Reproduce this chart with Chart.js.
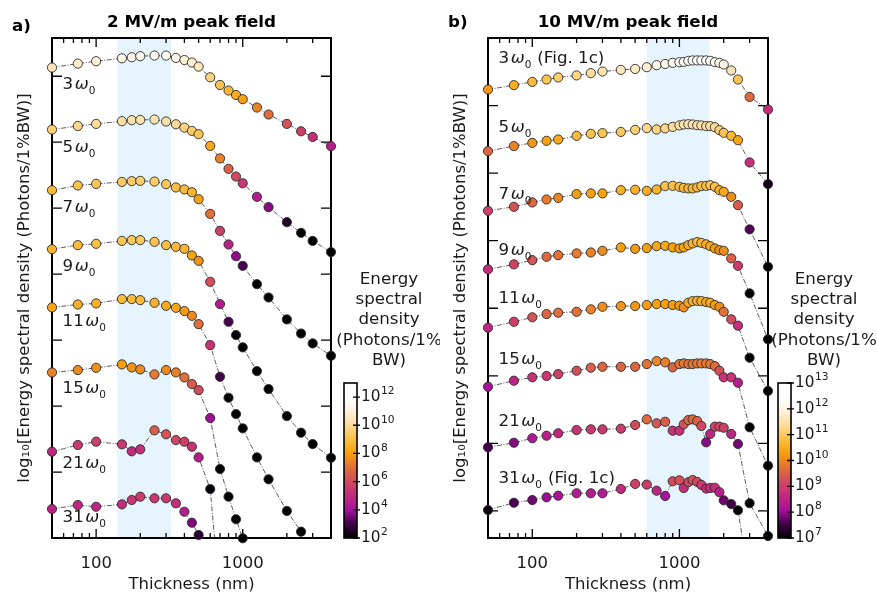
<!DOCTYPE html>
<html>
<head>
<meta charset="utf-8">
<script src="https://cdn.jsdelivr.net/npm/chart.js@4.4.1/dist/chart.umd.min.js"></script>
<style>
html, body { margin: 0; padding: 0; background: #fff; }
#wrap { position: relative; width: 877px; height: 596px; overflow: hidden; }
canvas { position: absolute; top: 0; }
</style>
</head>
<body>
<div id="wrap">
  <canvas id="panelA" width="345" height="596" style="left:0px"></canvas>
  <canvas id="panelB" width="345" height="596" style="left:436px"></canvas>
  <canvas id="cbarA" width="110" height="320" style="left:330px;top:240px"></canvas>
  <canvas id="cbarB" width="113" height="320" style="left:764px;top:240px"></canvas>
</div>
<script>
const FONT = "'DejaVu Sans', sans-serif";

// ---- panel a: 2 MV/m peak field ----
// thickness (nm) and log10 of energy spectral density for each harmonic
const thicknessA = [50, 75, 100, 150, 175, 200, 250, 300, 350, 400, 450, 500, 600, 700, 800, 900, 1000, 1250, 1500, 2000, 2500, 3000, 4000];
const harmonicsA = [3, 5, 7, 9, 11, 15, 21, 31];
const offsetA = [25.2, 21.4, 17.6, 13.3, 9.25, 5.2, 1.6, -2.45];   // vertical stacking (decades)
const a3  = [10.46, 10.76, 10.94, 11.16, 11.24, 11.32, 11.37, 11.37, 11.19, 11.03, 10.84, 10.53, 9.72, 9.14, 8.72, 8.38, 8.06, 7.43, 6.9, 6.19, 5.63, 5.2, 4.5];
const a5  = [9.56, 9.83, 9.99, 10.19, 10.27, 10.29, 10.32, 10.17, 9.96, 9.71, 9.46, 9.21, 8.32, 7.37, 6.58, 6.0, 5.49, 4.46, 3.68, 2.54, 1.73, 1.12, 0.27];
const a7  = [8.76, 9.12, 9.24, 9.39, 9.45, 9.47, 9.42, 9.22, 8.97, 8.82, 8.61, 8.08, 6.97, 5.68, 4.65, 3.76, 3.03, 1.64, 0.63, -1.03, -2.1, -2.85, -3.79];
const a9  = [8.59, 8.9, 9.0, 9.22, 9.28, 9.28, 9.15, 8.9, 8.77, 8.62, 8.12, 7.71, 6.12, 4.43, 3.09, 2.08, 1.15, -0.65, -2.01, -4.06, -5.32, -6.18, -7.22];
const a11 = [8.23, 8.45, 8.53, 8.86, 8.86, 8.78, 8.58, 8.35, 8.2, 7.95, 7.59, 6.96, 5.37, 2.97, 1.38, 0.14, -0.94, -3.14, -4.8, -7.2, -8.77, -10.0];
const a15 = [7.35, 7.53, 7.7, 7.96, 7.73, 7.58, 7.2, 7.53, 7.35, 6.97, 6.47, 6.01, 3.89, 0.03, -2.07, -3.78, -5.22];
const a21 = [4.94, 5.45, 5.7, 5.5, 4.97, 5.12, 6.56, 6.26, 5.82, 5.7, 5.32, 4.51, 2.11, -6.3];
const a31 = [4.65, 4.95, 4.82, 5.0, 5.33, 5.58, 5.46, 5.46, 5.08, 4.44, 3.61, 2.68];

// ---- panel b: 10 MV/m peak field ----
const thicknessB = [50, 75, 100, 125, 150, 200, 250, 300, 400, 500, 600, 700, 800, 900, 1000, 1070, 1150, 1230, 1320, 1410, 1520, 1620, 1740, 1870, 2000, 2250, 2500, 3000, 4000];
const harmonicsB = [3, 5, 7, 9, 11, 15, 21, 31];
const offsetB = [21.0, 17.05, 13.2, 9.2, 5.0, 1.1, -2.85, -7.0];
const b3  = [10.19, 10.51, 10.75, 10.93, 11.08, 11.23, 11.4, 11.52, 11.64, 11.71, 11.84, 11.99, 12.08, 12.16, 12.21, 12.23, 12.31, 12.34, 12.34, 12.34, 12.34, 12.31, 12.21, 12.16, 12.04, 11.6, 10.93, 9.64, 8.71];
const b5  = [9.58, 9.95, 10.19, 10.34, 10.44, 10.71, 10.86, 10.91, 11.0, 11.15, 11.28, 11.18, 11.26, 11.37, 11.48, 11.55, 11.57, 11.55, 11.5, 11.48, 11.43, 11.43, 11.35, 11.13, 10.93, 10.71, 10.39, 8.74, 7.14];
const b7  = [9.01, 9.31, 9.63, 9.85, 9.97, 10.25, 10.3, 10.3, 10.54, 10.57, 10.49, 10.59, 10.84, 10.86, 10.79, 10.71, 10.67, 10.67, 10.74, 10.84, 10.86, 10.91, 10.79, 10.54, 10.42, 10.05, 9.43, 7.64, 4.87];
const b9  = [8.68, 9.05, 9.36, 9.61, 9.73, 9.86, 9.93, 10.05, 10.3, 10.2, 10.25, 10.4, 10.42, 10.3, 10.23, 10.3, 10.47, 10.6, 10.7, 10.64, 10.53, 10.4, 10.23, 10.1, 10.05, 9.49, 8.94, 6.9, 3.5];
const b11 = [8.56, 9.0, 9.33, 9.57, 9.67, 9.74, 9.92, 10.11, 10.16, 10.16, 10.24, 10.31, 10.31, 10.24, 10.19, 10.07, 10.41, 10.53, 10.55, 10.53, 10.46, 10.41, 10.24, 10.11, 9.74, 9.18, 8.71, 6.34, 3.88];
const b15 = [8.09, 8.54, 8.79, 8.89, 9.03, 9.28, 9.5, 9.57, 9.57, 9.57, 9.77, 9.99, 9.9, 9.53, 9.77, 9.82, 9.77, 9.77, 9.82, 9.82, 9.82, 9.77, 9.62, 9.28, 8.79, 8.79, 8.39, 5.09, 2.25];
const b21 = [7.56, 7.9, 8.23, 8.42, 8.6, 8.84, 8.89, 8.89, 8.94, 9.21, 9.63, 9.34, 9.45, 8.79, 8.79, 9.26, 9.58, 9.63, 9.51, 9.14, 7.93, 8.55, 9.09, 9.09, 9.01, 8.55, 7.81, 3.42, 1.0];
const b31 = [7.07, 7.61, 7.81, 8.01, 8.13, 8.31, 8.31, 8.31, 8.63, 9.0, 8.95, 8.5, 8.11, 9.2, 9.27, 8.7, 9.13, 9.29, 9.15, 8.93, 8.66, 8.7, 8.72, 8.39, 7.79, 7.51, 7.05, 1.7];

// colour scale limits (log10) and highlighted thickness windows
const colorRangeA = [2, 13];
const colorRangeB = [7, 13];
const cbarExpA = [2, 4, 6, 8, 10, 12];
const cbarExpB = [7, 8, 9, 10, 11, 12, 13];
const shadeA = [140, 325];
const shadeB = [600, 1600];

// colormap black -> purple -> magenta -> orange -> white
const cmapStops = [[0, '#000000'], [0.1, '#4a0050'], [0.18, '#a8109c'], [0.28, '#c42c7c'], [0.37, '#d24c5c'],
  [0.46, '#e47234'], [0.55, '#f7a10c'], [0.64, '#fcc145'], [0.73, '#fedc9c'], [0.83, '#fff4e4'], [0.92, '#ffffff'], [1, '#ffffff']];

function hexRgb(h) { return [parseInt(h.slice(1, 3), 16), parseInt(h.slice(3, 5), 16), parseInt(h.slice(5, 7), 16)]; }
function cmap(t) {
  t = Math.min(1, Math.max(0, t));
  for (let i = 1; i < cmapStops.length; i++) {
    if (t <= cmapStops[i][0]) {
      const t0 = cmapStops[i - 1][0], t1 = cmapStops[i][0];
      const c0 = hexRgb(cmapStops[i - 1][1]), c1 = hexRgb(cmapStops[i][1]);
      const f = (t - t0) / (t1 - t0);
      return 'rgb(' + c0.map((c, j) => Math.round(c + (c1[j] - c) * f)).join(',') + ')';
    }
  }
  return '#ffffff';
}

function buildDatasets(thick, series, offsets, crange, yMin) {
  const ds = [];
  series.forEach((logs, k) => {
    const pts = logs.map((v, i) => ({ x: thick[i], y: v + offsets[k] }));
    const cols = logs.map(v => cmap((v - crange[0]) / (crange[1] - crange[0])));
    ds.push({ data: pts, showLine: true, pointRadius: 0, borderColor: '#333', borderWidth: 0.8,
      borderDash: [5, 1.6, 1, 1.6], order: 2 });
    ds.push({ data: pts, showLine: false, backgroundColor: cols, borderColor: '#2b2b2b', borderWidth: 0.9,
      pointRadius: c => (c.raw && c.raw.y < yMin - 0.45) ? 0 : 4.6, clip: false, order: 1 });
  });
  return ds;
}

// light blue window
const shadePlugin = {
  id: 'shade',
  beforeDatasetsDraw(chart, args, opts) {
    const { ctx, chartArea: { top, bottom }, scales: { x } } = chart;
    const x0 = x.getPixelForValue(opts.from), x1 = x.getPixelForValue(opts.to);
    ctx.save();
    ctx.fillStyle = '#e6f5fd';
    ctx.fillRect(x0, top, x1 - x0, bottom - top);
    ctx.restore();
  }
};

// box with inward ticks on all sides
const framePlugin = {
  id: 'frame',
  beforeDatasetsDraw(chart) {
    const { ctx, chartArea: { left, right, top, bottom }, scales: { x, y } } = chart;
    ctx.save();
    ctx.strokeStyle = '#000';
    ctx.lineWidth = 1.3;
    ctx.beginPath();
    for (let v = Math.ceil(y.min / 5) * 5; v <= y.max; v += 5) {
      const py = y.getPixelForValue(v);
      if (py > bottom - 2 || py < top + 2) continue;
      ctx.moveTo(left, py); ctx.lineTo(left + 10, py);
      ctx.moveTo(right, py); ctx.lineTo(right - 10, py);
    }
    for (let d = 1; d <= 3; d++) {
      for (let m = 1; m <= 9; m++) {
        const val = m * Math.pow(10, d);
        if (val <= x.min || val >= x.max) continue;
        const px = x.getPixelForValue(val);
        const len = m === 1 ? 9 : 5;
        ctx.moveTo(px, bottom); ctx.lineTo(px, bottom - len);
        ctx.moveTo(px, top); ctx.lineTo(px, top + len);
      }
    }
    ctx.stroke();
    ctx.lineWidth = 2;
    ctx.strokeRect(left, top, right - left, bottom - top);
    ctx.restore();
  }
};

function drawHarmonic(ctx, x, y, n, suffix) {
  ctx.fillStyle = '#1a1a1a';
  ctx.textAlign = 'left';
  ctx.textBaseline = 'alphabetic';
  ctx.font = '16.7px ' + FONT;
  ctx.fillText(String(n), x, y);
  x += ctx.measureText(String(n)).width + 1.5;
  ctx.font = 'italic 16.7px ' + FONT;
  ctx.fillText('ω', x, y);
  x += ctx.measureText('ω').width;
  ctx.font = '10.5px ' + FONT;
  ctx.fillText('0', x, y + 5);
  x += ctx.measureText('0').width;
  if (suffix) {
    ctx.font = '16.7px ' + FONT;
    ctx.fillText(suffix, x + 6, y);
  }
}

const panelTextPlugin = {
  id: 'panelText',
  afterDraw(chart, args, opts) {
    const { ctx, chartArea: { left, right }, scales: { x, y } } = chart;
    ctx.save();
    ctx.fillStyle = '#000';
    ctx.textBaseline = 'alphabetic';
    ctx.font = 'bold 16.7px ' + FONT;
    ctx.textAlign = 'center';
    ctx.fillText(opts.title, (left + right) / 2, 26.5);
    ctx.textAlign = 'left';
    ctx.fillText(opts.letter, opts.letterX, opts.letterY);
    opts.labels.forEach((lab, k) => {
      drawHarmonic(ctx, x.getPixelForValue(opts.labelX), y.getPixelForValue(lab), opts.harmonics[k], opts.suffix[k]);
    });
    ctx.restore();
  }
};

function makePanel(id, cfg) {
  return new Chart(document.getElementById(id), {
    type: 'scatter',
    data: { datasets: buildDatasets(cfg.thick, cfg.series, cfg.offsets, cfg.crange, cfg.yMin) },
    options: {
      responsive: false, animation: false, events: [],
      layout: { padding: { top: 38, right: cfg.padRight, left: 0, bottom: 0 } },
      plugins: {
        legend: { display: false }, tooltip: { enabled: false },
        shade: { from: cfg.shade[0], to: cfg.shade[1] },
        panelText: { title: cfg.title, letter: cfg.letter, letterX: cfg.letterX, letterY: cfg.letterY,
          labels: cfg.labelY, labelX: 59, harmonics: cfg.harmonics, suffix: cfg.suffix }
      },
      scales: {
        x: {
          type: 'logarithmic', min: 50, max: 4000,
          grid: { display: false }, border: { display: false },
          ticks: { autoSkip: false, maxRotation: 0, padding: 8, color: '#1a1a1a', font: { family: FONT, size: 16.5 },
            callback: v => (v === 100 || v === 1000) ? String(v) : '' },
          title: { display: true, text: 'Thickness (nm)', color: '#1a1a1a', font: { family: FONT, size: 16.5 }, padding: { top: 0, bottom: 1 } },
          afterFit: s => { s.height = 58; }
        },
        y: {
          min: cfg.yMin, max: cfg.yMax,
          grid: { display: false }, border: { display: false }, ticks: { display: false },
          title: { display: true, text: 'log₁₀[Energy spectral density (Photons/1%BW)]', color: '#1a1a1a',
            font: { family: FONT, size: 16.5 }, padding: { top: 15, bottom: 0 } },
          afterFit: s => { s.width = 52; }
        }
      }
    },
    plugins: [shadePlugin, framePlugin, panelTextPlugin]
  });
}

makePanel('panelA', {
  thick: thicknessA, series: [a3, a5, a7, a9, a11, a15, a21, a31], offsets: offsetA, crange: colorRangeA,
  yMin: 0, yMax: 37.9, padRight: 14, shade: shadeA,
  title: '2 MV/m peak field', letter: 'a)', letterX: 12, letterY: 30.5,
  labelY: [34.07, 29.24, 24.72, 20.25, 16.06, 10.96, 5.28, 1.23], harmonics: harmonicsA,
  suffix: ['', '', '', '', '', '', '', '']
});

makePanel('panelB', {
  thick: thicknessB, series: [b3, b5, b7, b9, b11, b15, b21, b31], offsets: offsetB, crange: colorRangeB,
  yMin: -2, yMax: 35, padRight: 13, shade: shadeB,
  title: '10 MV/m peak field', letter: 'b)', letterX: 12, letterY: 27,
  labelY: [33.16, 28.06, 23.05, 18.93, 15.36, 10.87, 6.31, 2.09], harmonics: harmonicsB,
  suffix: ['(Fig. 1c)', '', '', '', '', '', '', '(Fig. 1c)']
});

// ---- colorbars ----
const cbarPlugin = {
  id: 'cbar',
  afterDraw(chart, args, opts) {
    const { ctx, chartArea: { left, right, top, bottom }, scales: { y } } = chart;
    ctx.save();
    const g = ctx.createLinearGradient(0, bottom, 0, top);
    cmapStops.forEach(s => g.addColorStop(s[0], s[1]));
    ctx.fillStyle = g;
    ctx.fillRect(left, top, right - left, bottom - top);
    ctx.strokeStyle = '#000';
    ctx.lineWidth = 1.3;
    ctx.beginPath();
    const ticks = y.ticks.filter(t => {
      const e = Math.round(Math.log10(t.value));
      return Math.abs(Math.log10(t.value) - e) < 1e-6 && opts.exps.includes(e);
    });
    ticks.forEach(t => {
      const py = y.getPixelForValue(t.value);
      ctx.moveTo(right - 4, py); ctx.lineTo(right + 3, py);
    });
    ctx.stroke();
    ctx.lineWidth = 1.6;
    ctx.strokeRect(left, top, right - left, bottom - top);
    // tick labels 10^n
    ctx.fillStyle = '#1a1a1a';
    ctx.textAlign = 'left';
    ctx.textBaseline = 'middle';
    ticks.forEach(t => {
      const py = y.getPixelForValue(t.value);
      const e = String(Math.round(Math.log10(t.value)));
      ctx.font = '15.3px ' + FONT;
      ctx.fillText('10', right + 4, py);
      const w = ctx.measureText('10').width;
      ctx.font = '10.7px ' + FONT;
      ctx.fillText(e, right + 4 + w + 0.5, py - 5.5);
    });
    // title
    ctx.font = '16.7px ' + FONT;
    ctx.textAlign = 'center';
    ctx.textBaseline = 'alphabetic';
    opts.lines.forEach((t, i) => ctx.fillText(t, opts.cx, 44 + i * 20.2));
    ctx.restore();
  }
};

function makeCbar(id, crange, exps, padRight, cx) {
  return new Chart(document.getElementById(id), {
    type: 'scatter',
    data: { datasets: [] },
    options: {
      responsive: false, animation: false, events: [],
      layout: { padding: { left: 14, top: 143, bottom: 22, right: padRight } },
      plugins: { legend: { display: false }, tooltip: { enabled: false },
        cbar: { exps: exps, cx: cx, lines: ['Energy', 'spectral', 'density', '(Photons/1%', 'BW)'] } },
      scales: {
        x: { display: false },
        y: {
          type: 'logarithmic', position: 'right', min: Math.pow(10, crange[0]), max: Math.pow(10, crange[1]),
          grid: { display: false }, border: { display: false },
          ticks: { display: false, autoSkip: false },
          afterFit: s => { s.width = 45; }
        }
      }
    },
    plugins: [cbarPlugin]
  });
}

makeCbar('cbarA', colorRangeA, cbarExpA, 110 - 27 - 45, 59);
makeCbar('cbarB', colorRangeB, cbarExpB, 113 - 27 - 45, 60);
</script>
</body>
</html>
